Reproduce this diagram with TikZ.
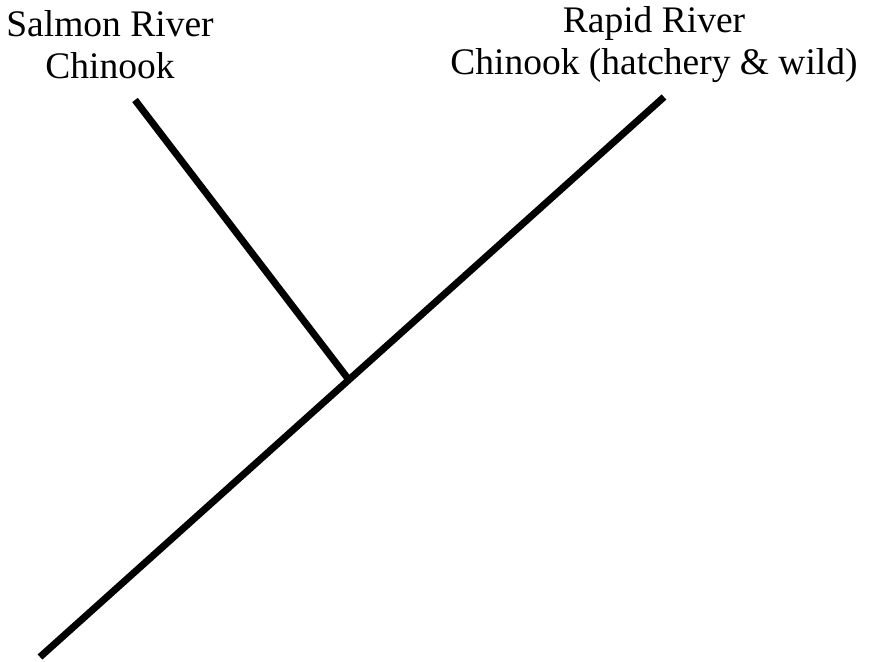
\documentclass[tikz,border=0pt]{standalone}
\usepackage{fontspec}
\setmainfont{Liberation Serif}
\usetikzlibrary{calc}
\begin{document}
\begin{tikzpicture}[x=1pt,y=-1pt,
  branch/.style={line width=7pt,line cap=butt,black},
  lbl/.style={align=center,inner sep=0pt,font=\fontsize{37.5}{42}\selectfont}]
\useasboundingbox (0,0) rectangle (877,661);
\coordinate (root) at (40,657);
\coordinate (rapid) at (664,97);
\coordinate (salmon) at (135,100);
\coordinate (junc) at ($(root)!0.495!(rapid)$);
\draw[branch] (root) -- (rapid);
\draw[branch] (salmon) -- (junc);
\node[lbl] (ls) at (110,44.5) {Salmon River\\Chinook};
\node[lbl] (lr) at (654,44.5) {Rapid River\\Chinook (hatchery \& wild)};
\end{tikzpicture}
\end{document}
